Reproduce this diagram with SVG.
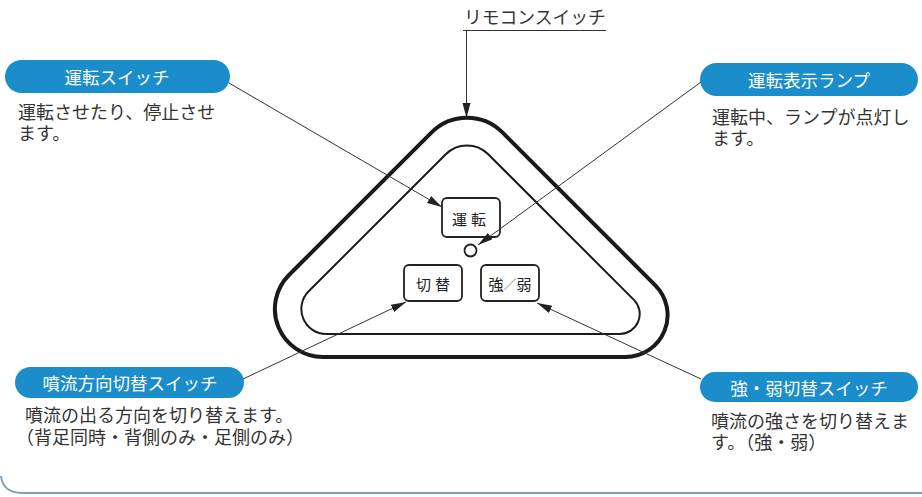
<svg xmlns="http://www.w3.org/2000/svg" width="922" height="497" viewBox="0 0 922 497">
<defs>
<marker id="ah" markerUnits="userSpaceOnUse" markerWidth="16" markerHeight="10" refX="15" refY="4" orient="auto">
<path d="M0,0 L15,4 L0,8 z" fill="#222"/>
</marker>
<style>
.jp{font-family:"Noto Sans CJK JP","Noto Sans CJK SC",sans-serif;}
.pill{fill:#1b8dcb;}
.pt{fill:#fff;font-size:17.5px;text-anchor:middle;dominant-baseline:central;}
.desc{fill:#333;font-size:18px;}
.btn{fill:#fff;stroke:#222;stroke-width:1.8;}
.bt{fill:#222;font-size:15px;text-anchor:middle;dominant-baseline:central;}
.con{stroke:#333;stroke-width:1;fill:none;}
</style>
</defs>
<rect width="922" height="497" fill="#fff"/>
<path d="M1,476 Q3,493 22,493 L922,493" fill="none" stroke="#7d9dbf" stroke-width="2"/>

<g id="remote">
<path d="M431.6,132.4 A50,50 0 0 1 502.4,132.4 L655.3,285.3 A42,42 0 0 1 625.6,357 L322.9,357 A48,48 0 0 1 289,275 Z" fill="none" stroke="#1a1a1a" stroke-width="4"/>
<path d="M445.8,154.2 A30,30 0 0 1 488.2,154.2 L633.9,299.9 A20,20 0 0 1 619.7,334 L326.4,334 A25,25 0 0 1 308.7,291.3 Z" fill="none" stroke="#1a1a1a" stroke-width="2"/>
</g>
<g id="btn-unten">
<rect class="btn" x="442" y="198" width="58" height="39" rx="5"/>
<text class="jp bt" x="471" y="218" letter-spacing="4">運転</text>
</g>
<g id="lamp">
<circle cx="470.5" cy="250.5" r="6" fill="#fff" stroke="#222" stroke-width="1.8"/>
</g>
<g id="btn-kirikae">
<rect class="btn" x="404" y="265" width="58" height="36" rx="5"/>
<text class="jp bt" x="435" y="283" letter-spacing="4">切替</text>
</g>
<g id="btn-kyoujaku">
<rect class="btn" x="481" y="265" width="58" height="36" rx="5"/>
<text class="jp bt" x="510" y="283">強<tspan fill="#888" font-size="13">／</tspan>弱</text>
</g>

<g id="label-remote">
<text class="jp" x="464" y="24" font-size="17.8" fill="#333">リモコンスイッチ</text>
<path d="M463,30.5 L606,30.5" stroke="#333" stroke-width="1"/>
</g>
<g id="label-unten">
<rect class="pill" x="5" y="60" width="225" height="33" rx="16.5"/>
<text class="jp pt" x="117" y="76.5">運転スイッチ</text>
<text class="jp desc"><tspan x="18" y="119">運転させたり、停止させ</tspan><tspan x="18" y="140">ます。</tspan></text>
</g>
<g id="label-lamp">
<rect class="pill" x="700" y="63" width="218" height="33" rx="16.5"/>
<text class="jp pt" x="809" y="79.5">運転表示ランプ</text>
<text class="jp desc"><tspan x="712" y="124">運転中、ランプが点灯し</tspan><tspan x="712" y="145">ます。</tspan></text>
</g>
<g id="label-funryu">
<rect class="pill" x="15" y="367" width="229" height="31" rx="15.5"/>
<text class="jp pt" x="130" y="382.5">噴流方向切替スイッチ</text>
<text class="jp desc"><tspan x="25" y="422">噴流の出る方向を切り替えます。</tspan><tspan x="16" y="444">（背足同時・背側のみ・足側のみ）</tspan></text>
</g>
<g id="label-kyoujaku">
<rect class="pill" x="700" y="372" width="218" height="30" rx="15"/>
<text class="jp pt" x="809" y="387">強・弱切替スイッチ</text>
<text class="jp desc"><tspan x="711" y="428">噴流の強さを切り替えま</tspan><tspan x="711" y="449">す。（強・弱）</tspan></text>
</g>

<g id="connectors">
<path class="con" d="M466.5,31 L466.5,118" marker-end="url(#ah)"/>
<path class="con" d="M229,83 L442,207" marker-end="url(#ah)"/>
<path class="con" d="M701,82 L478,245" marker-end="url(#ah)"/>
<path class="con" d="M243,379 L406,302" marker-end="url(#ah)"/>
<path class="con" d="M701,379 L537,303" marker-end="url(#ah)"/>
</g>
</svg>
